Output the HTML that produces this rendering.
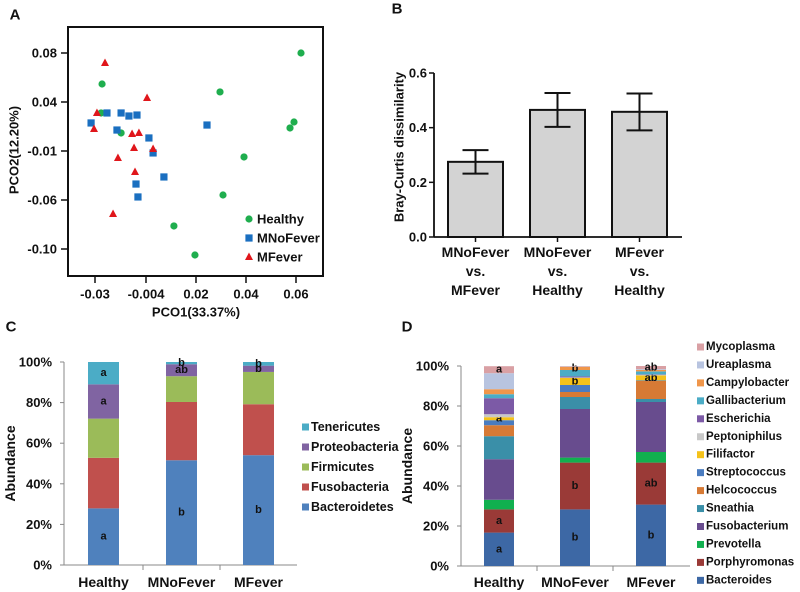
<!DOCTYPE html>
<html><head><meta charset="utf-8"><style>
html,body{margin:0;padding:0;background:#fff;}
svg{display:block;font-family:"Liberation Sans",Arial,sans-serif;font-weight:bold;}
</style></head><body>
<svg id="fig" width="800" height="592" viewBox="0 0 800 592" xmlns="http://www.w3.org/2000/svg"></svg>
<script>
// ---------- Panel A data ----------
const aXTicks = [-0.03, -0.004, 0.02, 0.04, 0.06];
const aXTickLabels = ["-0.03", "-0.004", "0.02", "0.04", "0.06"];
const aYTicks = [0.08, 0.04, -0.01, -0.06, -0.10];
const aYTickLabels = ["0.08", "0.04", "-0.01", "-0.06", "-0.10"];
const healthyX = [0.062, -0.0264, -0.0269, -0.0167, 0.0296, 0.0592, 0.0576, 0.0392, 0.0308, 0.0094, 0.0195];
const healthyY = [0.080, 0.0547, 0.0288, 0.0084, 0.0482, 0.0196, 0.0135, -0.0161, -0.0549, -0.0812, -0.1049];
const mnofeverX = [-0.032, -0.0239, -0.0167, -0.0188, -0.0127, -0.0086, -0.0026, -0.0006, 0.0046, -0.0091, -0.0081, 0.0244];
const mnofeverY = [0.0186, 0.0288, 0.0288, 0.0114, 0.0257, 0.0267, 0.0033, -0.012, -0.0365, -0.0437, -0.0569, 0.0165];
const mfeverX = [-0.0249, -0.029, -0.0305, -0.0035, -0.0111, -0.0076, -0.0101, -0.0006, -0.0183, -0.0096, -0.0208];
const mfeverY = [0.0718, 0.0288, 0.0125, 0.0433, 0.0074, 0.0084, -0.0069, -0.008, -0.0171, -0.0314, -0.0714];
// ---------- Panel B data ----------
const bCategories = [["MNoFever","vs.","MFever"],["MNoFever","vs.","Healthy"],["MFever","vs.","Healthy"]];
const bValues = [0.275, 0.465, 0.458];
const bErrLow = [0.232, 0.403, 0.390];
const bErrHigh = [0.318, 0.527, 0.525];
const bYTicks = [0, 0.2, 0.4, 0.6];
const bYTickLabels = ["0.0", "0.2", "0.4", "0.6"];
// ---------- Panel C data ----------
const cGroups = ["Healthy", "MNoFever", "MFever"];
const cSeries = ["Bacteroidetes", "Fusobacteria", "Firmicutes", "Proteobacteria", "Tenericutes"];
const cBacteroidetes = [27.9, 51.6, 54.1];
const cFusobacteria = [24.9, 28.7, 25.1];
const cFirmicutes = [19.3, 12.7, 15.9];
const cProteobacteria = [16.9, 5.9, 3.1];
const cTenericutes = [11.0, 1.1, 1.8];
const cLetters = [["a", null, null, "a", "a"], ["b", null, null, "ab", "b"], ["b", null, null, "b", "b"]];
const pctTicks = [0, 20, 40, 60, 80, 100];
const pctTickLabels = ["0%", "20%", "40%", "60%", "80%", "100%"];
// ---------- Panel D data ----------
const dSeries = ["Bacteroides","Porphyromonas","Prevotella","Fusobacterium","Sneathia","Helcococcus","Streptococcus","Filifactor","Peptoniphilus","Escherichia","Gallibacterium","Campylobacter","Ureaplasma","Mycoplasma"];
const dHealthy = [16.7, 11.6, 4.8, 20.3, 11.5, 5.5, 2.5, 1.5, 1.5, 8.0, 2.0, 2.5, 8.0, 3.5];
const dMNoFever = [28.3, 23.4, 2.5, 24.3, 6.0, 2.5, 3.5, 3.5, 0.3, 0.5, 3.2, 1.6, 0.2, 0.2];
const dMFever = [30.7, 21.0, 5.3, 25.0, 1.5, 9.0, 0.3, 2.5, 0.3, 0.2, 1.5, 0.8, 0.4, 1.5];
const dLettersHealthy = {0:"a", 1:"a", 7:"a", 13:"a"};
const dLettersMNoFever = {0:"b", 1:"b", 7:"b", 11:"b"};
const dLettersMFever = {0:"b", 1:"ab", 7:"ab", 13:"ab"};

const NS = "http://www.w3.org/2000/svg";
const svg = document.getElementById("fig");
function mk(tag, attrs, parent) {
  const e = document.createElementNS(NS, tag);
  for (const k in attrs) e.setAttribute(k, attrs[k]);
  (parent || svg).appendChild(e);
  return e;
}
function txt(str, x, y, size, anchor, parent, rot) {
  const t = mk("text", {x: x, y: y, "font-size": size, "text-anchor": anchor || "middle", "dominant-baseline": "central", fill: "#111"}, parent);
  if (rot) t.setAttribute("transform", "rotate(-90 " + x + " " + y + ")");
  t.textContent = str;
  return t;
}
function piecewise(dom, rng) {
  return function (v) {
    let i = 0;
    if (dom[0] > dom[dom.length - 1]) { while (i < dom.length - 2 && v < dom[i + 1]) i++; }
    else { while (i < dom.length - 2 && v > dom[i + 1]) i++; }
    const t = (v - dom[i]) / (dom[i + 1] - dom[i]);
    return rng[i] + t * (rng[i + 1] - rng[i]);
  };
}

// ================= Panel A =================
(function () {
  const g = mk("g", {});
  
  
  const lab = txt("A", 15, 15, 15, "middle", g);
  
  
  const xs = piecewise(aXTicks, [95, 146, 196, 246, 296]);
  const ys = piecewise(aYTicks, [53, 102, 151, 200, 249]);
  const frame = mk("rect", {x: 68, y: 27, width: 255, height: 249, fill: "none", stroke: "#111", "stroke-width": 2}, g);
  
  
  aYTicks.forEach((v, i) => {
    mk("line", {x1: 61, x2: 68, y1: ys(v), y2: ys(v), stroke: "#111", "stroke-width": 1.5}, g);
    const t = txt(aYTickLabels[i], 57, ys(v), 13, "end", g);
    
    
  });
  aXTicks.forEach((v, i) => {
    mk("line", {x1: xs(v), x2: xs(v), y1: 276, y2: 283, stroke: "#111", "stroke-width": 1.5}, g);
    const t = txt(aXTickLabels[i], xs(v), 294, 13, "middle", g);
    
    
  });
  const yt = txt("PCO2(12.20%)", 14, 150, 13, "middle", g, true);
  
  
  const xt = txt("PCO1(33.37%)", 196, 312, 13, "middle", g);
  
  
  function circle(x, y, p) { return mk("circle", {cx: x, cy: y, r: 3.6, fill: "#1fae4e"}, p); }
  function square(x, y, p) { return mk("rect", {x: x - 3.6, y: y - 3.6, width: 7.2, height: 7.2, fill: "#1a6fc0"}, p); }
  function tri(x, y, p) { return mk("polygon", {points: (x) + "," + (y - 4.5) + " " + (x - 4) + "," + (y + 3) + " " + (x + 4) + "," + (y + 3), fill: "#e0161b"}, p); }
  healthyX.forEach((v, i) => { const e = circle(xs(v), ys(healthyY[i]), g);   });
  mnofeverX.forEach((v, i) => { const e = square(xs(v), ys(mnofeverY[i]), g);   });
  mfeverX.forEach((v, i) => { const e = tri(xs(v), ys(mfeverY[i]), g);   });
  const leg = mk("g", {}, g);
  
  
  circle(249, 219, leg); txt("Healthy", 257, 219, 13, "start", leg);
  square(249, 238, leg); txt("MNoFever", 257, 238, 13, "start", leg);
  tri(249, 257, leg); txt("MFever", 257, 257, 13, "start", leg);
})();

// ================= Panel B =================
(function () {
  const g = mk("g", {});
  
  
  const lab = txt("B", 397, 9, 15, "middle", g);
  
  
  const y = v => 237 - v / 0.6 * 164;
  mk("line", {x1: 434, x2: 434, y1: 73, y2: 237, stroke: "#111", "stroke-width": 1.8}, g);
  mk("line", {x1: 434, x2: 682, y1: 237, y2: 237, stroke: "#111", "stroke-width": 1.8}, g);
  bYTicks.forEach((v, i) => {
    mk("line", {x1: 429, x2: 434, y1: y(v), y2: y(v), stroke: "#111", "stroke-width": 1.5}, g);
    const t = txt(bYTickLabels[i], 427, y(v), 13, "end", g);
    
    
  });
  const yt = txt("Bray-Curtis dissimilarity", 399, 147, 13, "middle", g, true);
  
  
  const centers = [475.5, 557.5, 639.5];
  bValues.forEach((v, i) => {
    const cx = centers[i];
    mk("line", {x1: cx, x2: cx, y1: 237, y2: 242, stroke: "#111", "stroke-width": 1.5}, g);
    const r = mk("rect", {x: cx - 27.5, y: y(v), width: 55, height: 237 - y(v), fill: "#d3d3d3", stroke: "#111", "stroke-width": 2}, g);
    
    
    const eg = mk("g", {stroke: "#111", "stroke-width": 2}, g);
    
    
    mk("line", {x1: cx, x2: cx, y1: y(bErrLow[i]), y2: y(bErrHigh[i])}, eg);
    mk("line", {x1: cx - 13, x2: cx + 13, y1: y(bErrLow[i]), y2: y(bErrLow[i])}, eg);
    mk("line", {x1: cx - 13, x2: cx + 13, y1: y(bErrHigh[i]), y2: y(bErrHigh[i])}, eg);
    bCategories[i].forEach((s, j) => {
      const t = txt(s, cx, 252 + j * 19, 14, "middle", g);
      
      
    });
  });
})();

// ================= Stacked bars helper =================
function stacked(opts) {
  const g = mk("g", {});
  
  
  const y = v => opts.y0 - v / 100 * (opts.y0 - opts.y100);
  mk("line", {x1: opts.ax, x2: opts.ax, y1: opts.y100, y2: opts.y0, stroke: "#888", "stroke-width": 1}, g);
  mk("line", {x1: opts.ax, x2: opts.axEnd, y1: opts.y0, y2: opts.y0, stroke: "#888", "stroke-width": 1}, g);
  opts.seps.forEach(s => mk("line", {x1: s, x2: s, y1: opts.y0, y2: opts.y0 + 5, stroke: "#888", "stroke-width": 1}, g));
  pctTicks.forEach((v, i) => {
    mk("line", {x1: opts.ax - 4, x2: opts.ax, y1: y(v), y2: y(v), stroke: "#888", "stroke-width": 1}, g);
    const t = txt(pctTickLabels[i], opts.ax - 12, y(v), 13, "end", g);
    
    
  });
  const yt = txt("Abundance", opts.ylx, (opts.y0 + opts.y100) / 2, 14, "middle", g, true);
  
  
  opts.groups.forEach((gn, gi) => {
    const cx = opts.centers[gi];
    let acc = 0;
    opts.values[gi].forEach((v, si) => {
      const r = mk("rect", {x: cx - opts.bw / 2, y: y(acc + v), width: opts.bw, height: Math.max(0, y(acc) - y(acc + v)), fill: opts.colors[si]}, g);
      
      
      const L = opts.letters[gi][si];
      if (L) {
        const t = txt(L, cx, y(acc + v / 2), 11, "middle", g);
        
        
      }
      acc += v;
    });
    const t = txt(gn, cx, 582, 14, "middle", g);
    
    
  });
  const leg = mk("g", {}, g);
  
  
  opts.legendOrder.forEach((si, k) => {
    const ly = opts.legY + k * opts.legStep;
    mk("rect", {x: opts.legX, y: ly - 3.5, width: 7, height: 7, fill: opts.colors[si]}, leg);
    const t = txt(opts.series[si], opts.legX + 9, ly, opts.legFont, "start", leg);
    
    
  });
}

// ================= Panel C =================
(function () {
  const lab = txt("C", 11, 327, 15, "middle");
  
  
  const vals = cGroups.map((_, i) => [cBacteroidetes[i], cFusobacteria[i], cFirmicutes[i], cProteobacteria[i], cTenericutes[i]]);
  stacked({name: "panel-c-phylum", ax: 64, axEnd: 297, y0: 565, y100: 362, seps: [143, 220],
    groups: cGroups, centers: [103.5, 181.5, 258.5], bw: 31, values: vals, series: cSeries,
    colors: ["#4f81bd", "#c0504d", "#9bbb59", "#8064a2", "#4bacc6"], letters: cLetters,
    legendOrder: [4, 3, 2, 1, 0], legX: 302, legY: 427, legStep: 20, legFont: 12.5, ylx: 10});
})();

// ================= Panel D =================
(function () {
  const lab = txt("D", 407, 327, 15, "middle");
  
  
  const letters = [dLettersHealthy, dLettersMNoFever, dLettersMFever].map(o => dSeries.map((_, i) => o[i] || null));
  stacked({name: "panel-d-genus", ax: 461, axEnd: 690, y0: 566, y100: 366, seps: [537, 613],
    groups: cGroups, centers: [499, 575, 651], bw: 30, values: [dHealthy, dMNoFever, dMFever], series: dSeries,
    colors: ["#3d68a5", "#9a3a37", "#11b04f", "#684c8e", "#3a8fa8", "#d77a35", "#4a7cc0", "#f5c21a", "#c8c8c8", "#7c5aa6", "#4bacc6", "#f0964a", "#b8c4e0", "#d9a0a4"],
    letters: letters, legendOrder: [13, 12, 11, 10, 9, 8, 7, 6, 5, 4, 3, 2, 1, 0],
    legX: 697, legY: 347, legStep: 17.95, legFont: 11.5, ylx: 407});
})();
</script>
</body></html>
